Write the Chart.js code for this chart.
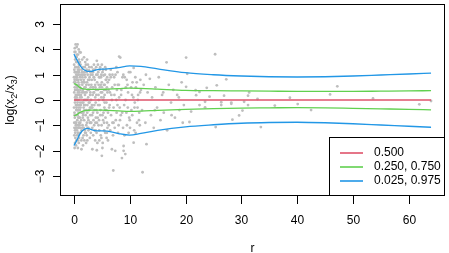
<!DOCTYPE html>
<html>
<head>
<meta charset="utf-8">
<script src="https://cdn.jsdelivr.net/npm/chart.js@4/dist/chart.umd.min.js"></script>
<style>
  body { margin: 0; background: #fff; }
  canvas { display: block; }
</style>
</head>
<body>
<canvas id="chart" width="449" height="253"></canvas>
<script>
// ---- data ----
const xTicks = [0, 10, 20, 30, 40, 50, 60];
const yTicks = [-3, -2, -1, 0, 1, 2, 3];

const pointX = [
  0.05,0.1,0.15,0.2,0.25,0.3,0.35,0.4,0.45,0.5,0.55,0.6,0.65,0.7,0.75,0.8,0.85,0.9,0.95,1.0,
  0.08,0.12,0.18,0.22,0.28,0.32,0.38,0.42,0.48,0.52,0.58,0.62,0.68,0.72,0.78,0.82,0.88,0.92,0.98,0.03,
  0.06,0.14,0.19,0.24,0.29,0.34,0.39,0.44,0.49,0.54,0.59,0.64,0.69,0.74,0.79,0.84,0.89,0.94,0.99,0.02,
  0.11,0.16,0.21,0.26,0.31,0.36,0.41,0.46,0.51,0.56,0.61,0.66,0.71,0.76,0.81,0.86,0.91,0.96,0.04,0.09,
  0.15,0.5,0.85,
  0.07,0.13,0.17,0.23,0.27,0.33,0.37,0.43,0.47,0.53,0.57,0.63,0.67,0.73,0.77,0.83,0.87,0.93,0.97,1.03,
  1.07,1.17,1.27,1.37,1.47,0.01,0.12,0.26,0.4,0.55,0.7,0.86,1.0,1.16,1.32,1.46,0.2,0.46,0.8,1.1,
  1.05,1.1,1.15,1.2,1.25,1.3,1.35,1.4,1.45,1.5,1.55,1.6,1.65,1.7,1.75,1.8,1.85,1.9,1.95,2.0,
  1.08,1.13,1.18,1.23,1.28,1.33,1.38,1.43,1.48,1.53,1.58,1.63,1.68,1.73,1.78,1.83,1.88,1.93,1.98,2.05,
  2.1,2.15,2.2,2.25,2.3,2.35,2.4,2.45,2.5,2.55,2.6,2.65,2.7,2.75,2.8,2.85,2.9,2.95,3.0,2.12,
  2.18,2.28,2.38,2.48,2.58,2.68,2.78,2.88,2.98,1.12,1.42,1.72,2.02,2.32,2.62,2.92,1.22,1.52,1.82,2.22,
  1.57,1.62,1.67,1.76,1.86,1.92,2.03,2.08,2.14,2.24,2.34,2.44,2.54,2.64,2.74,2.84,2.94,3.02,3.12,3.22,
  3.32,3.42,3.52,3.62,3.72,3.82,3.92,3.98,3.28,3.58,1.6,1.9,2.2,2.5,2.8,3.1,3.4,3.7,2.0,2.4,
  2.7,3.0,3.3,3.6,3.9,1.7,2.6,3.45,3.85,2.35,
  3.1,3.2,3.3,3.4,3.5,3.6,3.7,3.8,3.9,4.0,4.1,4.1,4.2,4.3,4.4,4.5,4.6,4.7,4.8,4.9,
  5.0,5.0,5.1,5.2,5.3,5.4,5.5,5.6,5.7,5.8,5.9,6.0,3.15,3.25,3.35,3.45,3.55,3.65,3.75,3.85,
  3.95,4.05,4.15,4.25,4.35,4.45,4.55,4.65,4.75,4.85,4.95,5.05,5.15,5.25,5.35,5.45,5.55,5.65,5.75,5.85,
  5.95,3.05,3.5,4.0,4.5,5.0,5.5,6.0,3.8,4.3,
  4.02,4.12,4.22,4.32,4.42,4.52,4.62,4.72,4.82,4.92,5.02,5.12,5.22,5.32,5.42,5.52,5.62,5.72,5.82,5.92,
  6.05,6.25,6.45,6.65,6.85,7.0,7.25,7.45,7.65,7.85,4.2,4.6,5.1,5.6,6.1,6.6,7.1,7.6,4.4,4.8,
  5.3,5.8,6.3,6.8,7.3,7.8,4.9,5.4,5.9,6.4,
  6.1,6.3,6.5,6.7,6.8,6.9,7.05,7.1,7.3,7.4,7.5,7.7,7.9,8.1,8.1,8.3,8.4,8.6,8.7,8.9,
  8.9,9.0,9.2,9.3,9.5,9.7,9.9,10.1,10.3,10.5,10.7,10.7,10.9,11.1,11.3,11.5,11.7,11.9,6.2,6.4,
  6.6,6.9,7.2,7.6,7.8,8.0,8.2,8.5,8.8,9.1,9.4,9.6,9.8,10.0,10.4,10.8,11.0,11.4,11.8,12.0,
  8.05,8.25,8.45,8.65,8.85,9.05,9.25,9.45,9.65,9.85,10.05,10.25,10.45,10.65,10.85,11.05,11.25,11.45,11.65,11.85,
  12.3,12.2,12.5,12.8,13.0,13.2,13.6,13.8,14.0,14.3,14.6,14.9,15.2,15.5,15.8,16.1,16.6,16.7,17.0,17.4,
  17.8,18.1,18.5,18.9,19.3,19.7,20.1,20.3,20.1,12.9,14.5,16.0,17.5,18.8,19.5,
  21.8,23.8,25.6,27.3,21.9,22.5,24.3,26.9,31.2,31.4,32.9,38.7,40.1,36.0,42.5,22.5,23.5,23.5,26.4,26.4,
  28.2,28.2,30.5,31.2,30.2,29.6,28.4,25.4,33.5,21.0,20.7,25.3,47.2,45.9,53.6,61.9,64.0
];
const pointY = [
  0.3,-0.5,1.1,-1.2,0.7,2.2,-0.2,1.5,-1.6,0.1,0.9,-0.8,2.2,-1.9,0.4,1.3,-0.3,-1.1,0.6,1.9,
  -1.4,0.8,-0.1,1.6,-0.9,0.2,-1.8,1.0,-0.6,1.8,-0.4,0.5,-1.3,1.2,-0.7,0.0,1.6,-1.5,0.3,1.4,
  -0.9,0.5,-1.7,1.3,0.0,-1.0,0.9,-0.3,1.7,-1.2,0.2,-0.1,1.0,-1.6,0.7,-0.5,1.4,-0.9,-0.2,-0.3,
  1.9,-0.7,0.4,-1.5,1.1,0.6,-0.4,1.3,-1.0,0.0,1.5,-0.6,0.3,-1.1,0.8,-1.4,1.1,-0.7,0.7,-1.1,
  2.05,2.1,2.0,
  1.2,-0.6,0.9,-1.3,0.1,1.7,-1.1,0.4,-0.2,1.1,-1.4,0.8,-0.4,1.8,-1.0,0.6,-1.7,0.2,1.2,-0.7,
  1.5,-0.3,1.0,-1.2,0.3,0.9,-1.9,1.9,-0.9,0.5,-0.2,1.0,-1.0,0.4,-0.5,1.1,0.1,0.8,-1.3,0.1,
  -0.4,0.9,-1.3,1.88,0.2,-0.8,-1.95,1.2,-0.1,0.6,-1.5,1.0,-0.6,0.3,-1.1,1.69,0.0,-0.4,1.3,-1.3,
  0.5,-0.9,1.4,-0.2,0.8,-1.6,0.1,-0.5,1.6,-1.0,0.4,-1.8,0.7,-0.3,1.1,-0.8,0.5,-1.2,0.2,0.9,
  -0.6,1.4,-1.0,0.3,-1.4,0.7,-0.2,1.0,-0.7,0.1,-1.2,0.6,1.17,-0.4,0.9,-1.5,0.2,-0.9,0.5,0.0,
  -1.7,1.2,-0.5,0.4,-1.1,-0.1,0.8,-0.3,1.1,-0.1,0.7,-1.4,1.5,-0.9,0.4,-0.6,-1.1,0.9,-0.2,0.6,
  -0.7,1.3,-0.1,0.8,-1.6,1.0,-0.2,0.5,-1.3,1.1,0.0,-1.1,0.8,-0.4,1.3,-0.9,0.3,-1.3,0.6,-0.2,
  1.0,-0.5,0.3,-1.0,0.8,0.1,-0.7,1.3,-1.1,1.4,-1.1,0.7,-0.4,1.4,-0.1,-0.9,0.5,-0.4,0.3,-1.6,
  0.4,1.0,-0.3,0.9,-1.2,-0.5,-0.8,1.2,0.5,1.6,
  -0.3,0.8,-1.95,1.1,-0.8,0.3,-1.2,0.6,-0.1,1.0,1.55,-1.99,-0.5,0.4,-1.0,0.9,-0.2,1.3,-1.4,0.1,
  -2.21,0.7,-0.6,1.2,0.97,-0.9,0.2,-1.3,0.8,-0.4,0.5,-1.1,1.3,-0.6,0.2,-1.4,0.9,-0.2,1.2,-0.9,
  0.4,-1.3,0.7,-0.7,1.1,0.0,-1.6,0.5,-0.4,0.9,-1.0,0.3,-1.7,0.0,0.6,-0.3,1.0,-0.7,0.4,-1.5,
  0.9,0.0,0.5,-0.4,-0.8,1.4,-0.1,0.3,-1.6,1.4,
  0.2,-0.9,1.0,-0.2,0.6,-1.2,0.9,-0.6,0.3,-1.5,0.5,1.1,-0.8,0.1,-1.2,0.6,-0.4,1.2,-0.1,-0.9,
  0.7,-1.0,0.3,-0.6,0.5,-1.4,0.2,1.0,-0.5,0.6,-1.7,1.2,-1.9,1.3,-1.6,0.9,-0.9,1.3,0.2,0.6,
  -0.5,0.8,-0.3,0.0,-1.1,-0.2,1.0,0.4,-1.3,1.0,
  -0.5,0.8,-1.2,0.2,-1.95,1.0,-2.79,-0.3,0.6,-2.01,-0.8,0.4,-1.3,1.72,0.1,1.68,-0.6,-2.3,0.9,-2.01,
  -1.82,-0.2,-2.14,0.5,-1.0,0.3,-0.7,1.1,-0.4,0.7,1.27,-1.69,-0.1,0.5,-0.9,0.2,-0.5,0.8,0.4,-0.2,
  1.2,-0.9,0.9,0.0,1.1,-1.0,-0.3,0.4,-1.1,0.9,-0.5,0.6,-1.3,-0.8,0.2,-1.2,0.9,-0.3,-1.0,0.4,
  0.6,-0.8,0.2,-0.5,1.0,-1.4,0.0,0.8,-0.3,1.1,-1.1,0.5,-0.6,0.1,-0.3,-1.3,0.7,0.0,-0.8,0.3,
  -2.86,-0.4,0.6,-0.9,-1.75,0.3,0.84,-0.6,0.1,-1.1,0.5,-0.3,0.9,-0.8,0.2,-0.5,1.49,-1.2,0.6,-0.1,
  0.4,-0.7,0.2,-0.4,0.7,-0.2,1.68,1.04,0.52,1.0,-0.4,0.3,-0.6,0.1,-0.9,
  0.39,0.48,0.58,0.82,0.19,0.32,0.13,0.17,0.17,0.30,0.04,0.09,-0.16,-0.22,-0.4,-0.2,-0.07,-0.29,-0.09,-0.2,
  -0.1,-0.15,-0.07,-0.2,-0.42,-0.61,-0.78,-1.07,-1.07,-0.46,-0.87,1.81,0.54,0.22,0.06,-0.17,-0.04
];

// quantile curves
const curveX   = [0, 0.5, 1, 1.5, 2, 2.5, 3, 4, 5, 6, 8, 10, 12, 15, 20, 25, 30, 35, 40, 45, 50, 55, 60, 64];
const q500     = [0, 0, 0, 0, 0, 0, 0, 0, 0, 0, 0, 0, 0, 0, 0, 0, 0, 0, 0, 0, 0, 0, 0, 0];
const q750     = [0.65, 0.6, 0.5, 0.45, 0.43, 0.42, 0.42, 0.42, 0.42, 0.43, 0.45, 0.47, 0.46, 0.43, 0.38, 0.37, 0.36, 0.35, 0.34, 0.34, 0.34, 0.35, 0.36, 0.37];
const q250     = [-0.63, -0.58, -0.5, -0.45, -0.42, -0.41, -0.40, -0.40, -0.40, -0.41, -0.43, -0.45, -0.44, -0.41, -0.37, -0.34, -0.32, -0.31, -0.30, -0.31, -0.33, -0.35, -0.37, -0.39];
const q975     = [1.82, 1.6, 1.4, 1.25, 1.17, 1.13, 1.13, 1.19, 1.22, 1.23, 1.28, 1.35, 1.33, 1.23, 1.08, 1.0, 0.95, 0.92, 0.91, 0.92, 0.95, 0.99, 1.03, 1.06];
const q025     = [-1.8, -1.6, -1.37, -1.22, -1.14, -1.12, -1.16, -1.22, -1.22, -1.23, -1.33, -1.39, -1.32, -1.2, -1.06, -0.98, -0.92, -0.89, -0.88, -0.9, -0.94, -0.99, -1.04, -1.08];

const legendLabels = ["0.500", "0.250, 0.750", "0.025, 0.975"];
const legendColors = ["#DF536B", "#61D04F", "#2297E6"];

const FONT = '12px "Liberation Sans", Arial, sans-serif';

function xy(xs, ys) {
    return xs.map((x, i) => ({ x: x, y: ys[i] }));
}

function curve(ys, color) {
    return {
        data: xy(curveX, ys),
        showLine: true,
        borderColor: color,
        borderWidth: 1.3,
        pointRadius: 0,
        cubicInterpolationMode: "monotone",
        order: 0
    };
}

/* =========================
   R-STYLE AXES, BOX, LEGEND
========================= */

const rFrame = {
    id: "rFrame",
    afterDraw(chart) {
        const ctx = chart.ctx;
        const a = chart.chartArea;
        const xs = chart.scales.x;
        const ys = chart.scales.y;

        ctx.save();
        ctx.strokeStyle = "#000";
        ctx.lineWidth = 1;
        ctx.strokeRect(Math.round(a.left) + 0.5, Math.round(a.top) + 0.5,
            Math.round(a.right - a.left) - 1, Math.round(a.bottom - a.top) - 1);

        ctx.fillStyle = "#000";
        ctx.font = FONT;

        // x ticks
        ctx.textAlign = "center";
        ctx.textBaseline = "alphabetic";
        xTicks.forEach(t => {
            const px = Math.round(xs.getPixelForValue(t)) + 0.5;
            ctx.beginPath();
            ctx.moveTo(px, a.bottom);
            ctx.lineTo(px, a.bottom + 8);
            ctx.stroke();
            ctx.fillText(String(t), px, a.bottom + 27.5);
        });

        // y ticks (labels rotated like R)
        yTicks.forEach(t => {
            const py = Math.round(ys.getPixelForValue(t)) + 0.5;
            ctx.beginPath();
            ctx.moveTo(a.left - 7, py);
            ctx.lineTo(a.left, py);
            ctx.stroke();
            ctx.save();
            ctx.translate(a.left - 16.5, py);
            ctx.rotate(-Math.PI / 2);
            ctx.fillText(t < 0 ? "\u2212" + Math.abs(t) : String(t), 0, 0);
            ctx.restore();
        });

        // axis titles
        ctx.fillText("r", (a.left + a.right) / 2, 252);

        ctx.save();
        ctx.translate(14, (a.top + a.bottom) / 2);
        ctx.rotate(-Math.PI / 2);
        const parts = [["log(x", 0], ["2", 1], ["/x", 0], ["3", 1], [")", 0]];
        const sub = '9px "Liberation Sans", Arial, sans-serif';
        let w = 0;
        parts.forEach(p => { ctx.font = p[1] ? sub : FONT; w += ctx.measureText(p[0]).width; });
        let cx = -w / 2;
        ctx.textAlign = "left";
        parts.forEach(p => {
            ctx.font = p[1] ? sub : FONT;
            ctx.fillText(p[0], cx, p[1] ? 3 : 0);
            cx += ctx.measureText(p[0]).width;
        });
        ctx.restore();

        // legend
        const lx = 329, ly = 137, lw = a.right - lx, lh = a.bottom - ly;
        ctx.fillStyle = "#fff";
        ctx.fillRect(lx, ly, lw, lh);
        ctx.strokeStyle = "#000";
        ctx.strokeRect(lx + 0.5, ly + 0.5, lw - 1, lh - 1);
        ctx.font = FONT;
        ctx.textAlign = "left";
        ctx.textBaseline = "middle";
        legendLabels.forEach((lab, i) => {
            const yy = 153 + i * 14;
            ctx.strokeStyle = legendColors[i];
            ctx.lineWidth = 1.6;
            ctx.beginPath();
            ctx.moveTo(340, yy);
            ctx.lineTo(363, yy);
            ctx.stroke();
            ctx.fillStyle = "#000";
            ctx.fillText(lab, 374, yy);
        });
        ctx.restore();
    }
};

new Chart(document.getElementById("chart").getContext("2d"), {
    type: "scatter",
    data: {
        datasets: [
            {
                data: xy(pointX, pointY),
                pointRadius: 1.4,
                pointBackgroundColor: "#BEBEBE",
                pointBorderWidth: 0,
                order: 10
            },
            curve(q500, legendColors[0]),
            curve(q750, legendColors[1]),
            curve(q250, legendColors[1]),
            curve(q975, legendColors[2]),
            curve(q025, legendColors[2])
        ]
    },
    options: {
        responsive: false,
        animation: false,
        devicePixelRatio: 1,
        layout: { padding: { left: 60, right: 2, top: 1, bottom: 57 } },
        scales: {
            x: { type: "linear", min: -2.5, max: 66.5, display: false },
            y: { type: "linear", min: -3.8, max: 3.8, display: false }
        },
        plugins: {
            legend: { display: false },
            tooltip: { enabled: false }
        }
    },
    plugins: [rFrame]
});
</script>
</body>
</html>
